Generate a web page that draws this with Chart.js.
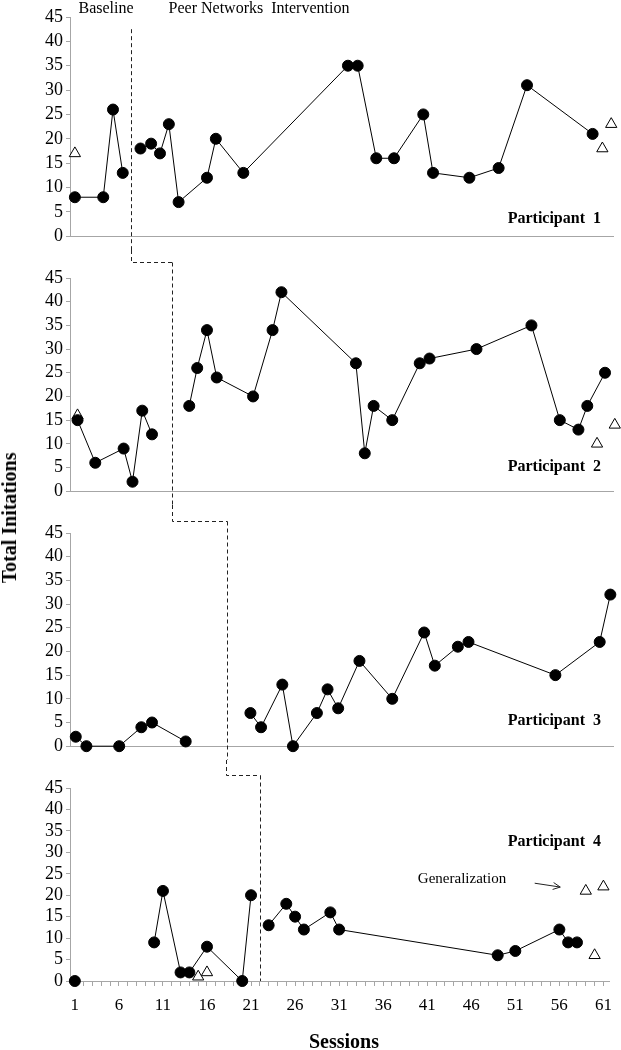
<!DOCTYPE html>
<html lang="en">
<head>
<meta charset="UTF-8" />
<title>Total Initations</title>
<script src="https://cdn.jsdelivr.net/npm/chart.js@4.4.0/dist/chart.umd.min.js"></script>
<style>
  body { margin: 0; background: #fff; }
  #wrap { position: relative; width: 621px; height: 1050px; font-family: "Liberation Serif", "Times New Roman", serif; color: #000; }
  #wrap canvas { position: absolute; left: 0; }
  .lbl { position: absolute; white-space: pre; line-height: 1; }
  .c { transform: translate(-50%, -50%); }
  .r { transform: translateY(-50%); }
  .b { font-weight: bold; }
</style>
</head>
<body>
<div id="wrap">
  <canvas id="p1" width="621" height="250" style="top:0px"></canvas>
  <canvas id="p2" width="621" height="255" style="top:250px"></canvas>
  <canvas id="p3" width="621" height="255" style="top:505px"></canvas>
  <canvas id="p4" width="621" height="290" style="top:760px"></canvas>

  <div class="lbl c" style="left:106px; top:8px; font-size:16px;">Baseline</div>
  <div class="lbl c" style="left:259px; top:8px; font-size:16px;">Peer Networks  Intervention</div>
  <div class="lbl r b" style="right:20px; top:218px; font-size:16px;">Participant  1</div>
  <div class="lbl r b" style="right:20px; top:466px; font-size:16px;">Participant  2</div>
  <div class="lbl r b" style="right:20px; top:720px; font-size:16px;">Participant  3</div>
  <div class="lbl r b" style="right:20px; top:841px; font-size:16px;">Participant  4</div>
  <div class="lbl c" style="left:462px; top:878px; font-size:15px;">Generalization</div>
  <div class="lbl c b" style="left:344px; top:1041px; font-size:20px;">Sessions</div>
  <div class="lbl c b" style="left:9px; top:518px; font-size:20px; transform: translate(-50%, -50%) rotate(-90deg);">Total Initations</div>
</div>

<script>
// participant 1
const p1BaseSessions = [1, 4.2, 5.3, 6.4];
const p1BaseValues = [8, 8, 26, 13];
const p1PeerSessions = [8.4, 9.6, 10.6, 11.6, 12.7, 15.9, 16.9, 20, 31.8, 32.9, 35, 37, 40.3, 41.4, 45.5, 48.8, 52, 59.4];
const p1PeerValues = [18, 19, 17, 23, 7, 12, 20, 13, 35, 35, 16, 16, 25, 13, 12, 14, 31, 21];
const p1GenSessions = [1, 60.5, 61.5];
const p1GenValues = [17, 18, 23];

// participant 2
const p2BaseSessions = [1.3, 3.3, 6.5, 7.5, 8.6, 9.7];
const p2BaseValues = [15, 6, 9, 2, 17, 12];
const p2PeerSessions = [13.9, 14.8, 15.9, 17, 21.1, 23.3, 24.3, 32.7, 33.7, 34.7, 36.8, 39.9, 41, 46.3, 52.5, 55.7, 57.8, 58.8, 60.8];
const p2PeerValues = [18, 26, 34, 24, 20, 34, 42, 27, 8, 18, 15, 27, 28, 30, 35, 15, 13, 18, 25];
const p2GenSessions = [1.3, 59.9, 61.9];
const p2GenValues = [16, 10, 14];

// participant 3
const p3BaseSessions = [1.1, 2.3, 6, 8.5, 9.7, 13.5];
const p3BaseValues = [2, 0, 0, 4, 5, 1];
const p3PeerSessions = [20.8, 22, 24.4, 25.6, 28.3, 29.5, 30.7, 33.1, 36.8, 40.4, 41.6, 44.2, 45.4, 55.2, 60.2, 61.4];
const p3PeerValues = [7, 4, 13, 0, 7, 12, 8, 18, 10, 24, 17, 21, 22, 15, 22, 32];
const p3GenSessions = [];
const p3GenValues = [];

// participant 4 (null = break in the line)
const p4BaseSessions = [1, null, 10, 11, 13, 14, 16, 20, 21];
const p4BaseValues = [0, null, 9, 21, 2, 2, 8, 0, 20];
const p4PeerSessions = [23, 25, 26, 27, 30, 31, 49, 51, 56, 57, 58];
const p4PeerValues = [13, 18, 15, 12, 16, 12, 6, 7, 12, 9, 9];
const p4GenSessions = [15, 16, 59, 60, 61];
const p4GenValues = [1, 2, 21, 6, 22];

// phase change lines (session where the intervention starts)
const phaseLines = [7.3, 11.9, 18.2, 22];

const yTicks = [0, 5, 10, 15, 20, 25, 30, 35, 40, 45];
const xTickLabels = [1, 6, 11, 16, 21, 26, 31, 36, 41, 46, 51, 56, 61];

const axisGrey = "#a6a6a6";
const serif = "'Liberation Serif', 'Times New Roman', serif";

const pts = (xs, ys) => xs.map((x, i) => ({ x: x, y: ys[i] }));

//garis fase putus-putus dan panah generalization
const phasePlugin = {
  id: "phase",
  afterDatasetsDraw(chart, args, opts) {
    const { ctx, chartArea, scales } = chart;
    const x = scales.x, y = scales.y;
    ctx.save();
    ctx.strokeStyle = "#222";
    ctx.lineWidth = 1;
    ctx.setLineDash([4, 3]);
    ctx.beginPath();
    const xNow = Math.round(x.getPixelForValue(opts.at)) + 0.5;
    let start;
    if (opts.from == null) {
      start = y.getPixelForValue(opts.startValue);
    } else {
      const xPrev = Math.round(x.getPixelForValue(opts.from)) + 0.5;
      start = Math.round(chartArea.top - opts.step) + 0.5;
      ctx.moveTo(xPrev, 0);
      ctx.lineTo(xPrev, start);
      ctx.lineTo(xNow, start);
    }
    ctx.moveTo(xNow, start);
    ctx.lineTo(xNow, opts.toAxis ? chartArea.bottom : chart.height);
    ctx.stroke();
    ctx.setLineDash([]);
    if (opts.arrow) {
      const a = opts.arrow;
      const x0 = x.getPixelForValue(a[0]), y0 = y.getPixelForValue(a[1]);
      const x1 = x.getPixelForValue(a[2]), y1 = y.getPixelForValue(a[3]);
      const ang = Math.atan2(y1 - y0, x1 - x0);
      ctx.beginPath();
      ctx.moveTo(x0, y0);
      ctx.lineTo(x1, y1);
      ctx.moveTo(x1 - 8 * Math.cos(ang - 0.45), y1 - 8 * Math.sin(ang - 0.45));
      ctx.lineTo(x1, y1);
      ctx.lineTo(x1 - 8 * Math.cos(ang + 0.45), y1 - 8 * Math.sin(ang + 0.45));
      ctx.stroke();
    }
    ctx.restore();
  }
};

function makePanel(id, base, peer, gen, phase, last) {
  const canvas = document.getElementById(id);
  return new Chart(canvas, {
    type: "scatter",
    data: {
      datasets: [
        { data: base, showLine: true, borderColor: "#000", borderWidth: 1, pointRadius: 5.5,
          pointBackgroundColor: "#000", pointBorderColor: "#000", spanGaps: false, clip: false },
        { data: peer, showLine: true, borderColor: "#000", borderWidth: 1, pointRadius: 5.5,
          pointBackgroundColor: "#000", pointBorderColor: "#000", clip: false },
        { data: gen, showLine: false, pointStyle: "triangle", pointRadius: 6.5,
          pointBackgroundColor: "#fff", pointBorderColor: "#000", pointBorderWidth: 1, clip: false }
      ]
    },
    options: {
      responsive: false,
      animation: false,
      layout: { padding: { top: phase.padTop, right: 8, left: 0, bottom: 0 } },
      plugins: {
        legend: { display: false },
        tooltip: { enabled: false },
        phase: phase
      },
      scales: {
        x: {
          type: "linear",
          min: 0.45,
          max: 61.7,
          border: { color: axisGrey, width: 1 },
          grid: { drawOnChartArea: false, drawTicks: last, tickLength: 5, color: axisGrey },
          ticks: {
            display: last,
            autoSkip: false,
            maxRotation: 0,
            minRotation: 0,
            padding: 9,
            color: "#000",
            font: { family: serif, size: 17 },
            callback: (v) => (xTickLabels.includes(v) ? String(v) : "")
          },
          afterBuildTicks: (scale) => {
            const t = [];
            for (let s = 1; s <= 61; s++) t.push({ value: s });
            scale.ticks = t;
          },
          afterFit: (scale) => { scale.height = phase.xHeight; }
        },
        y: {
          min: 0,
          max: 45,
          border: { color: axisGrey, width: 1 },
          grid: { drawOnChartArea: false, drawTicks: true, tickLength: 4, color: axisGrey },
          ticks: {
            autoSkip: false,
            padding: 3,
            color: "#000",
            font: { family: serif, size: 18 },
            callback: (v) => (yTicks.includes(v) ? String(v) : "")
          },
          afterBuildTicks: (scale) => { scale.ticks = yTicks.map((v) => ({ value: v })); },
          afterFit: (scale) => { scale.width = 70; }
        }
      }
    },
    plugins: [phasePlugin]
  });
}

makePanel("p1", pts(p1BaseSessions, p1BaseValues), pts(p1PeerSessions, p1PeerValues), pts(p1GenSessions, p1GenValues),
  { at: phaseLines[0], from: null, startValue: 42.5, toAxis: false, padTop: 17, xHeight: 13 }, false);
makePanel("p2", pts(p2BaseSessions, p2BaseValues), pts(p2PeerSessions, p2PeerValues), pts(p2GenSessions, p2GenValues),
  { at: phaseLines[1], from: phaseLines[0], step: 16, toAxis: false, padTop: 28, xHeight: 13 }, false);
makePanel("p3", pts(p3BaseSessions, p3BaseValues), pts(p3PeerSessions, p3PeerValues), pts(p3GenSessions, p3GenValues),
  { at: phaseLines[2], from: phaseLines[1], step: 12, toAxis: false, padTop: 28, xHeight: 12 }, false);
makePanel("p4", pts(p4BaseSessions, p4BaseValues), pts(p4PeerSessions, p4PeerValues), pts(p4GenSessions, p4GenValues),
  { at: phaseLines[3], from: phaseLines[2], step: 13, toAxis: true, padTop: 28, xHeight: 69,
    arrow: [53.2, 22.8, 56.1, 21.9] }, true);
</script>
</body>
</html>
